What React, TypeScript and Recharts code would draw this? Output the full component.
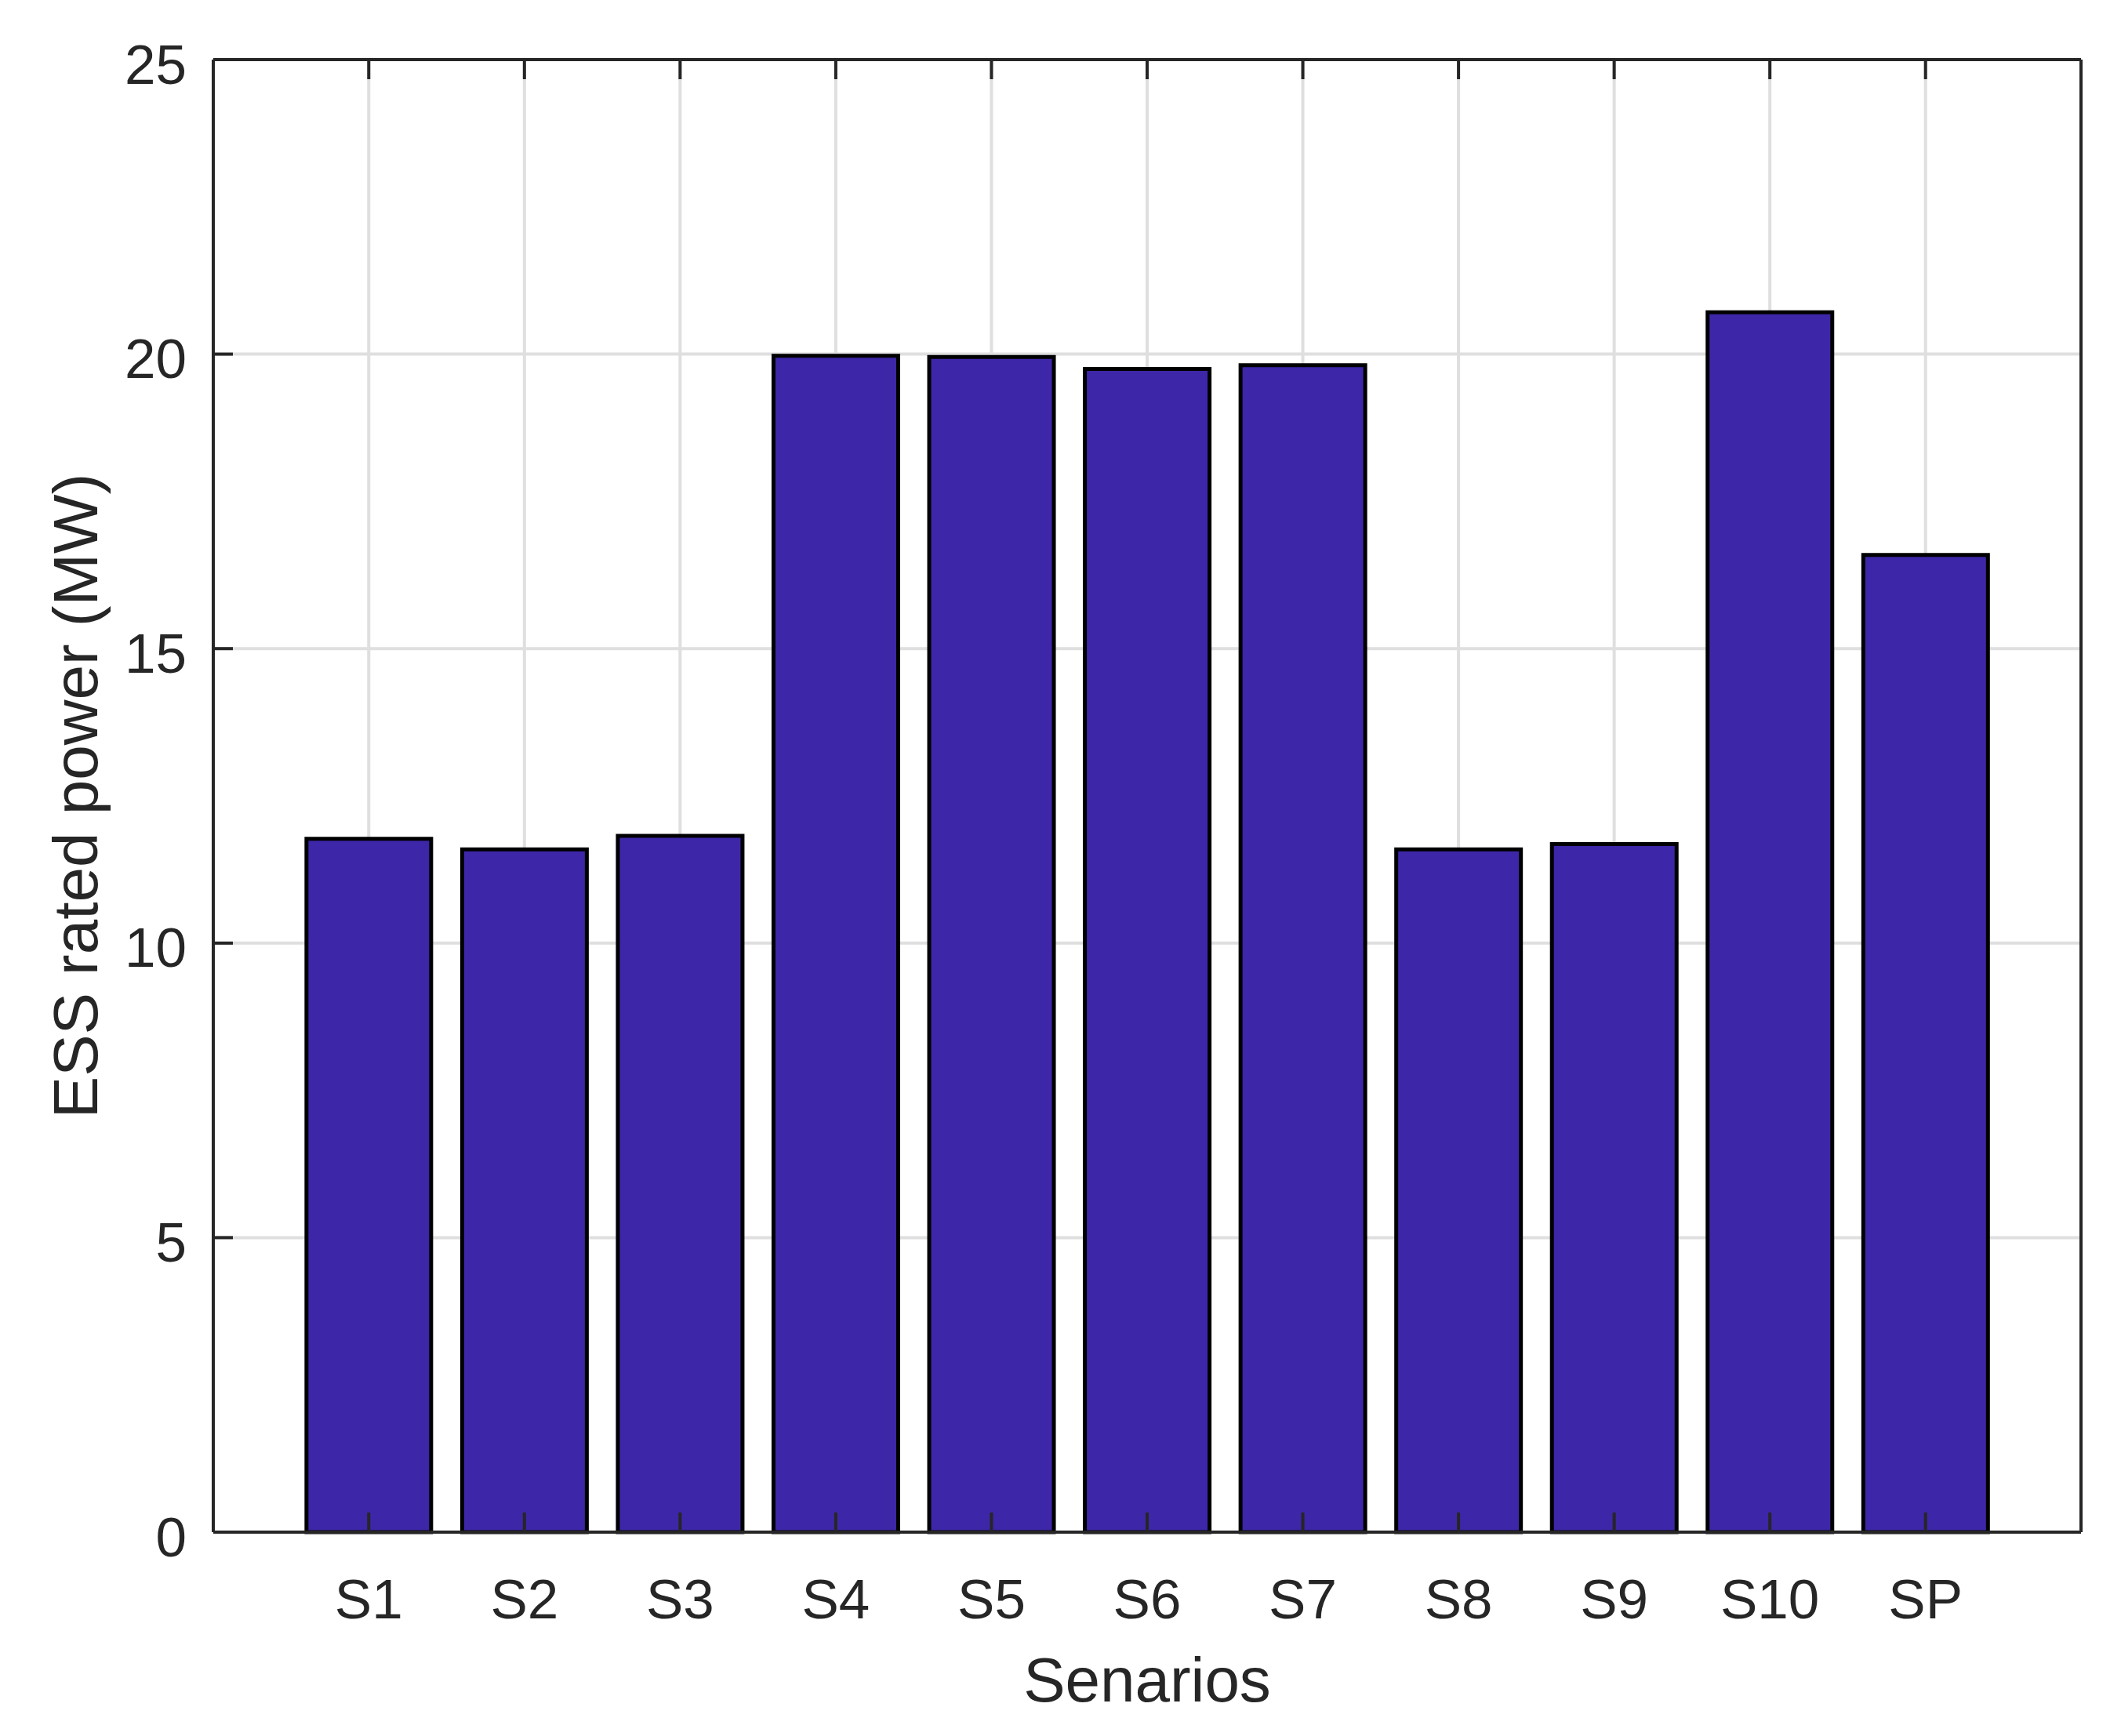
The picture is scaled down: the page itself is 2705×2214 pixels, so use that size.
import { Bar, BarChart, CartesianGrid, XAxis, YAxis } from 'recharts';

const scenarios = ['S1', 'S2', 'S3', 'S4', 'S5', 'S6', 'S7', 'S8', 'S9', 'S10', 'SP'];
const ratedPower = [11.77, 11.59, 11.82, 19.97, 19.95, 19.75, 19.81, 11.59, 11.68, 20.71, 16.59];
const yTicks = [0, 5, 10, 15, 20, 25];

const data = scenarios.map((name, i) => ({ name, power: ratedPower[i] }));

const INK = '#262626';
const FONT = '"Liberation Sans", Arial, Helvetica, sans-serif';
const TICK_LEN = 25;

// plot box edges (page px)
const PLOT_LEFT = 272;
const PLOT_RIGHT = 2654;
const PLOT_TOP = 76;
const PLOT_BOTTOM = 1954;

// MATLAB-style ticks: mark drawn inward, label outside
function LeftTick({ y, payload }: any) {
  return (
    <g>
      <line x1={PLOT_LEFT} y1={y} x2={PLOT_LEFT + TICK_LEN} y2={y} stroke={INK} strokeWidth={4} />
      <text x={PLOT_LEFT - 34} y={y} dy="0.43em" textAnchor="end" fontSize={71} fill={INK} fontFamily={FONT}>
        {payload.value}
      </text>
    </g>
  );
}

function RightTick({ y }: any) {
  return <line x1={PLOT_RIGHT} y1={y} x2={PLOT_RIGHT - TICK_LEN} y2={y} stroke={INK} strokeWidth={4} />;
}

function BottomTick({ x, payload }: any) {
  return (
    <g>
      <line x1={x} y1={PLOT_BOTTOM} x2={x} y2={PLOT_BOTTOM - TICK_LEN} stroke={INK} strokeWidth={4} />
      <text x={x} y={PLOT_BOTTOM + 110} textAnchor="middle" fontSize={71} fill={INK} fontFamily={FONT}>
        {payload.value}
      </text>
    </g>
  );
}

function TopTick({ x }: any) {
  return <line x1={x} y1={PLOT_TOP} x2={x} y2={PLOT_TOP + TICK_LEN} stroke={INK} strokeWidth={4} />;
}

const XTitle = ({ viewBox }: any) => (
  <text x={viewBox.x + viewBox.width / 2} y={PLOT_BOTTOM + 216} textAnchor="middle" fontSize={80} fill={INK} fontFamily={FONT}>
    Senarios
  </text>
);

const YTitle = ({ viewBox }: any) => {
  const cx = 124;
  const cy = viewBox.y + viewBox.height / 2;
  return (
    <text x={cx} y={cy} transform={`rotate(-90, ${cx}, ${cy})`} textAnchor="middle" fontSize={80} fill={INK} fontFamily={FONT}>
      ESS rated power (MW)
    </text>
  );
};

export default function App() {
  return (
    <div style={{ position: 'absolute', left: 0, top: 0, width: 2705, height: 2214, background: '#fff' }}>
      <BarChart
        width={2705}
        height={2214}
        data={data}
        margin={{ top: PLOT_TOP - 1, right: 2705 - PLOT_RIGHT - 1, left: 0, bottom: 0 }}
        barCategoryGap="10%"
      >
        <CartesianGrid xAxisId="bottom" yAxisId="left" stroke="#dfdfdf" strokeWidth={4} />
        <XAxis
          xAxisId="bottom"
          dataKey="name"
          height={2214 - PLOT_BOTTOM}
          padding={{ left: 99, right: 99 }}
          interval={0}
          tickSize={0}
          tickMargin={0}
          tickLine={false}
          axisLine={{ stroke: INK, strokeWidth: 4 }}
          tick={<BottomTick />}
          label={<XTitle />}
        />
        <XAxis
          xAxisId="top"
          dataKey="name"
          orientation="top"
          height={1}
          padding={{ left: 99, right: 99 }}
          interval={0}
          tickSize={0}
          tickMargin={0}
          tickLine={false}
          axisLine={{ stroke: INK, strokeWidth: 4 }}
          tick={<TopTick />}
        />
        <YAxis
          yAxisId="left"
          width={PLOT_LEFT}
          domain={[0, 25]}
          ticks={yTicks}
          interval={0}
          tickSize={0}
          tickMargin={0}
          tickLine={false}
          axisLine={{ stroke: INK, strokeWidth: 4 }}
          tick={<LeftTick />}
          label={<YTitle />}
        />
        <YAxis
          yAxisId="right"
          orientation="right"
          width={1}
          domain={[0, 25]}
          ticks={yTicks}
          interval={0}
          tickSize={0}
          tickMargin={0}
          tickLine={false}
          axisLine={{ stroke: INK, strokeWidth: 4 }}
          tick={<RightTick />}
        />
        <Bar
          xAxisId="bottom"
          yAxisId="left"
          dataKey="power"
          fill="#3e26a8"
          stroke="#000"
          strokeWidth={5}
          isAnimationActive={false}
        />
      </BarChart>
    </div>
  );
}
